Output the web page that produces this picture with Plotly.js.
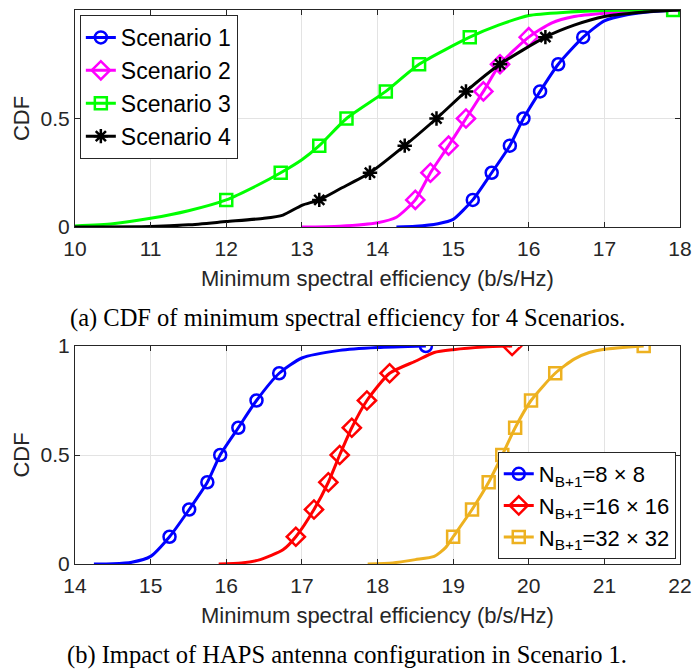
<!DOCTYPE html>
<html>
<head>
<meta charset="utf-8">
<script src="https://cdn.plot.ly/plotly-3.0.1.min.js"></script>
<style>html,body{margin:0;padding:0;background:#fff;}#chart{width:693px;height:671px;}</style>
</head>
<body>
<div id="chart"></div>
<script>
// ---- Panel (a): CDF of minimum spectral efficiency for 4 scenarios ----
const s1X = [14.25, 14.5, 14.8, 15.0, 15.26, 15.51, 15.75, 15.93, 16.15, 16.39, 16.72, 17.0, 17.3, 17.6, 18.0];
const s1Y = [0, 0.003, 0.015, 0.035, 0.125, 0.25, 0.375, 0.5, 0.625, 0.75, 0.875, 0.95, 0.978, 0.992, 1.0];
const s1MX = [15.26, 15.51, 15.75, 15.93, 16.15, 16.39, 16.72];
const s1MY = [0.125, 0.25, 0.375, 0.5, 0.625, 0.75, 0.875];

const s2X = [13.0, 13.5, 14.0, 14.25, 14.5, 14.7, 14.94, 15.17, 15.4, 15.62, 16.0, 16.3, 16.6, 17.0, 17.5, 18.0];
const s2Y = [0, 0.004, 0.02, 0.045, 0.125, 0.25, 0.375, 0.5, 0.625, 0.75, 0.875, 0.94, 0.97, 0.985, 0.996, 1.0];
const s2MX = [14.5, 14.7, 14.94, 15.17, 15.4, 15.62, 16.0];
const s2MY = [0.125, 0.25, 0.375, 0.5, 0.625, 0.75, 0.875];

const s3X = [10.0, 10.5, 11.0, 11.5, 12.0, 12.4, 12.72, 13.0, 13.23, 13.59, 14.11, 14.55, 15.22, 15.6, 16.0, 16.5, 17.0, 17.91];
const s3Y = [0.005, 0.015, 0.04, 0.075, 0.125, 0.19, 0.25, 0.31, 0.375, 0.5, 0.625, 0.75, 0.875, 0.93, 0.975, 0.99, 0.998, 1.0];
const s3MX = [12.0, 12.72, 13.23, 13.59, 14.11, 14.55, 15.22, 17.91];
const s3MY = [0.125, 0.25, 0.375, 0.5, 0.625, 0.75, 0.875, 1.0];

const s4X = [10.0, 11.0, 11.5, 12.0, 12.5, 12.75, 13.0, 13.23, 13.5, 13.9, 14.36, 14.78, 15.17, 15.62, 16.22, 16.6, 17.0, 17.5, 18.0];
const s4Y = [0, 0.002, 0.01, 0.025, 0.04, 0.055, 0.1, 0.125, 0.175, 0.25, 0.375, 0.5, 0.625, 0.75, 0.875, 0.93, 0.97, 0.99, 1.0];
const s4MX = [13.23, 13.9, 14.36, 14.78, 15.17, 15.62, 16.22];
const s4MY = [0.125, 0.25, 0.375, 0.5, 0.625, 0.75, 0.875];

// ---- Panel (b): HAPS antenna configuration ----
const b1X = [14.25, 14.5, 14.75, 15.0, 15.25, 15.51, 15.75, 15.92, 16.16, 16.4, 16.7, 17.0, 17.5, 18.0, 18.64];
const b1Y = [0, 0.001, 0.008, 0.035, 0.125, 0.25, 0.375, 0.5, 0.625, 0.75, 0.875, 0.945, 0.98, 0.993, 1.0];
const b1MX = [15.25, 15.51, 15.75, 15.92, 16.16, 16.4, 16.7, 18.64];
const b1MY = [0.125, 0.25, 0.375, 0.5, 0.625, 0.75, 0.875, 1.0];

const b2X = [15.9, 16.2, 16.45, 16.75, 16.92, 17.16, 17.35, 17.5, 17.66, 17.86, 18.16, 18.5, 18.75, 19.0, 19.4, 19.78];
const b2Y = [0, 0.005, 0.02, 0.065, 0.125, 0.25, 0.375, 0.5, 0.625, 0.75, 0.875, 0.93, 0.97, 0.983, 0.995, 1.0];
const b2MX = [16.92, 17.16, 17.35, 17.5, 17.66, 17.86, 18.16, 19.78];
const b2MY = [0.125, 0.25, 0.375, 0.5, 0.625, 0.75, 0.875, 1.0];

const b3X = [17.87, 18.2, 18.5, 18.75, 18.9, 19.0, 19.25, 19.47, 19.65, 19.82, 20.03, 20.35, 20.6, 20.8, 21.0, 21.52];
const b3Y = [0, 0.005, 0.02, 0.035, 0.075, 0.125, 0.25, 0.375, 0.5, 0.625, 0.75, 0.875, 0.94, 0.97, 0.985, 1.0];
const b3MX = [19.0, 19.25, 19.47, 19.65, 19.82, 20.03, 20.35, 21.52];
const b3MY = [0.125, 0.25, 0.375, 0.5, 0.625, 0.75, 0.875, 1.0];

const namesA = ['Scenario 1', 'Scenario 2', 'Scenario 3', 'Scenario 4'];
const namesB = ['N<sub>B+1</sub>=8 × 8', 'N<sub>B+1</sub>=16 × 16', 'N<sub>B+1</sub>=32 × 32'];

const AX = "#262626";
const FONT = "Liberation Sans, Arial, Helvetica, sans-serif";

// interleave nulls so that marker trace draws only markers but legend shows line+marker
function gap(arr) { const out = []; arr.forEach((v, i) => { if (i) out.push(null); out.push(v); }); return out; }

const traces = [];
function addSeries(x, y, mx, my, name, color, symbol, msize, xa, ya, legend) {
  traces.push({x: x, y: y, mode: 'lines', type: 'scatter', xaxis: xa, yaxis: ya,
    line: {color: color, width: 3, shape: 'spline', smoothing: 0.6}, showlegend: false, hoverinfo: 'skip', legend: legend});
  traces.push({x: gap(mx), y: gap(my), mode: 'lines+markers', type: 'scatter', xaxis: xa, yaxis: ya, name: name,
    connectgaps: false, line: {color: color, width: 3}, legend: legend,
    marker: {symbol: symbol, size: msize, color: color, line: {color: color, width: 2.5}}});
}
addSeries(s1X, s1Y, s1MX, s1MY, namesA[0], '#0000ff', 'circle-open', 12, 'x', 'y', 'legend');
addSeries(s2X, s2Y, s2MX, s2MY, namesA[1], '#ff00ff', 'diamond-open', 14, 'x', 'y', 'legend');
addSeries(s3X, s3Y, s3MX, s3MY, namesA[2], '#00ff00', 'square-open', 12, 'x', 'y', 'legend');
addSeries(s4X, s4Y, s4MX, s4MY, namesA[3], '#000000', 'asterisk-open', 12, 'x', 'y', 'legend');
addSeries(b1X, b1Y, b1MX, b1MY, namesB[0], '#0000ff', 'circle-open', 12, 'x2', 'y2', 'legend2');
addSeries(b2X, b2Y, b2MX, b2MY, namesB[1], '#ff0000', 'diamond-open', 14, 'x2', 'y2', 'legend2');
addSeries(b3X, b3Y, b3MX, b3MY, namesB[2], '#edb120', 'square-open', 12, 'x2', 'y2', 'legend2');

function xax(range, anchor) {
  return {range: range, dtick: 1, tick0: 0, anchor: anchor, showline: true, linecolor: AX, linewidth: 1, mirror: 'ticks',
    ticks: 'inside', ticklen: 5, tickcolor: AX, showgrid: true, gridcolor: '#e3e3e3', zeroline: false,
    ticklabelstandoff: 3,
    tickfont: {family: FONT, size: 21, color: AX},
    title: {text: 'Minimum spectral efficiency (b/s/Hz)', font: {family: FONT, size: 22, color: AX}, standoff: 11}};
}
function yax(domain, anchor) {
  return {range: [0, 1], domain: domain, anchor: anchor, tickvals: [0, 0.5, 1], ticktext: ['0', '0.5', '1'],
    showline: true, linecolor: AX, linewidth: 1, mirror: 'ticks', ticks: 'inside', ticklen: 5, tickcolor: AX,
    showgrid: true, gridcolor: '#e3e3e3', zeroline: false,
    tickfont: {family: FONT, size: 21, color: AX},
    title: {text: 'CDF', font: {family: FONT, size: 22, color: AX}, standoff: 4}};
}

const layout = {
  width: 693, height: 671,
  margin: {l: 75, r: 13, t: 10, b: 107},
  paper_bgcolor: '#ffffff', plot_bgcolor: '#ffffff',
  showlegend: true,
  xaxis: xax([10, 18], 'y'),
  yaxis: yax([0.6083, 1], 'x'),
  xaxis2: xax([14, 22], 'y2'),
  yaxis2: yax([0, 0.3935], 'x2'),
  legend: {x: 0.008, y: 0.991, xanchor: 'left', yanchor: 'top', bgcolor: '#ffffff', bordercolor: AX, borderwidth: 1,
    font: {family: FONT, size: 23, color: '#000'}, itemwidth: 30, tracegroupgap: 0},
  legend2: {x: 0.993, y: 0.009, xanchor: 'right', yanchor: 'bottom', bgcolor: '#ffffff', bordercolor: AX, borderwidth: 1,
    font: {family: FONT, size: 22, color: '#000'}, itemwidth: 30},
  annotations: [
    {text: '(a) CDF of minimum spectral efficiency for 4 Scenarios.', xref: 'paper', yref: 'paper', x: 0.45, y: 0.444,
      xanchor: 'center', yanchor: 'middle', showarrow: false, font: {family: 'Liberation Serif, Times New Roman, serif', size: 24.5, color: '#000'}},
    {text: '(b) Impact of HAPS antenna configuration in Scenario 1.', xref: 'paper', yref: 'paper', x: 0.45, y: -0.164,
      xanchor: 'center', yanchor: 'middle', showarrow: false, font: {family: 'Liberation Serif, Times New Roman, serif', size: 24.5, color: '#000'}}
  ]
};

Plotly.newPlot('chart', traces, layout, {displayModeBar: false, staticPlot: true});
</script>
</body>
</html>
